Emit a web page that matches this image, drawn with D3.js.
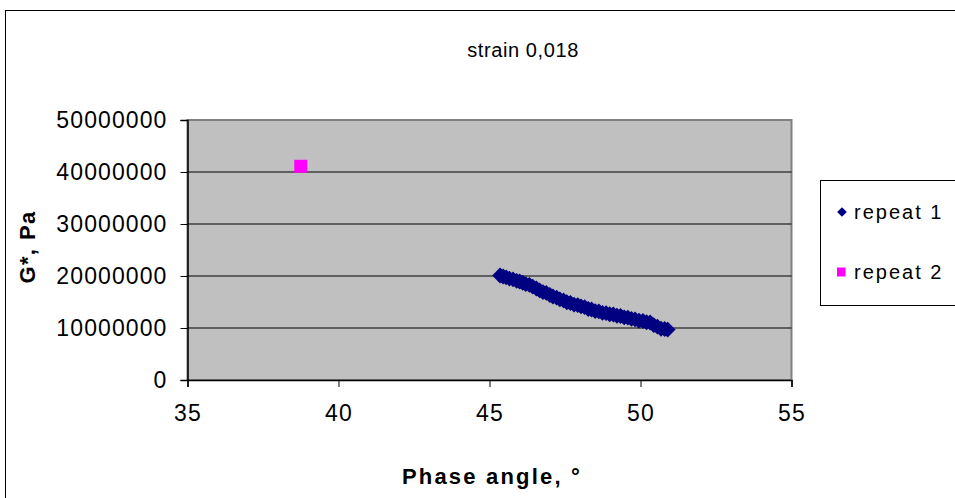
<!DOCTYPE html>
<html><head><meta charset="utf-8">
<script src="https://cdn.jsdelivr.net/npm/d3@7"></script>
<style>body{margin:0;background:#fff}svg{display:block;font-family:"Liberation Sans",Arial,sans-serif}</style>
</head><body><svg id="c" width="955" height="498"></svg>
<script>
const title = "strain 0,018";
const xTitle = "Phase angle, °";
const yTitle = "G*, Pa";
const xTicks = [35, 40, 45, 50, 55];
const yTicks = [0, 10000000, 20000000, 30000000, 40000000, 50000000];
const seriesNames = ["repeat 1", "repeat 2"];
const repeat1X = [45.35,45.45,45.55,45.66,45.78,45.9,46.0,46.1,46.2,46.32,46.43,46.55,46.66,46.77,46.88,47.0,47.1,47.22,47.33,47.45,47.56,47.68,47.8,47.92,48.03,48.15,48.27,48.38,48.5,48.62,48.74,48.86,48.98,49.1,49.22,49.34,49.46,49.58,49.7,49.82,49.95,50.08,50.2,50.32,50.44,50.56,50.68,50.8,50.9];
const repeat1Y = [20.1,19.9,19.75,19.5,19.35,19.05,18.95,18.7,18.45,18.3,17.95,17.6,17.25,16.9,16.75,16.35,16.05,15.85,15.5,15.3,14.95,14.8,14.5,14.4,14.15,14.0,13.65,13.55,13.25,13.2,12.9,12.85,12.65,12.6,12.35,12.3,12.05,12.0,11.75,11.65,11.4,11.35,11.1,11.05,10.55,10.25,9.85,9.8,9.7].map(v => v * 1e6);
const repeat2X = [38.75];
const repeat2Y = [41100000];

const svg = d3.select("#c");
const x = d3.scaleLinear().domain([35, 55]).range([187.5, 791.5]);
const y = d3.scaleLinear().domain([0, 50000000]).range([380, 120]);

svg.append("rect").attr("x", 5.5).attr("y", 10.5).attr("width", 1000).attr("height", 600)
  .attr("fill", "#fff").attr("stroke", "#000").attr("stroke-width", 1);

svg.append("rect").attr("x", x(35)).attr("y", y(50000000)).attr("width", x(55) - x(35)).attr("height", y(0) - y(50000000))
  .attr("fill", "#c0c0c0").attr("stroke", "#808080").attr("stroke-width", 2);

svg.append("g").selectAll("line").data(yTicks.filter(t => t > 0 && t < 50000000)).join("line")
  .attr("x1", x(35)).attr("x2", x(55)).attr("y1", d => y(d)).attr("y2", d => y(d))
  .attr("stroke", "#000").attr("stroke-width", 1);

const yAxis = d3.axisLeft(y).tickValues(yTicks).tickSize(7).tickPadding(13).tickFormat(d3.format("d"));
const gy = svg.append("g").attr("transform", `translate(${x(35)},0)`).call(yAxis);
const xAxis = d3.axisBottom(x).tickValues(xTicks).tickSize(7).tickPadding(18).tickFormat(d3.format("d"));
const gx = svg.append("g").attr("transform", `translate(0,${y(0)})`).call(xAxis);
[gx, gy].forEach(g => {
  g.select(".domain").attr("stroke", "#000").attr("stroke-width", 1.5);
  g.selectAll(".tick line").attr("stroke", "#000");
  g.selectAll("text").attr("fill", "#000").style("font-size", "23px").style("letter-spacing", "1.1px")
    .style("font-family", '"Liberation Sans", Arial, sans-serif');
});
gx.selectAll("text").attr("dy", "0.71em");

svg.append("text").attr("x", 523).attr("y", 57).attr("text-anchor", "middle")
  .style("font-size", "20px").style("letter-spacing", "0.6px").text(title);

svg.append("text").attr("x", 492).attr("y", 484).attr("text-anchor", "middle")
  .style("font-size", "22px").style("font-weight", "bold").style("letter-spacing", "2.2px").text(xTitle);
svg.append("text").attr("transform", "translate(35,247) rotate(-90)").attr("text-anchor", "middle")
  .style("font-size", "22px").style("font-weight", "bold").style("letter-spacing", "1.4px").text(yTitle);

const diamond = d3.symbol().type(d3.symbolDiamond2).size(160);
svg.append("g").selectAll("path").data(repeat1X.map((v, i) => [v, repeat1Y[i]])).join("path")
  .attr("d", diamond).attr("transform", d => `translate(${x(d[0])},${y(d[1])})`).attr("fill", "#000080");
svg.append("g").selectAll("rect").data(repeat2X.map((v, i) => [v, repeat2Y[i]])).join("rect")
  .attr("x", d => x(d[0]) - 6.5).attr("y", d => y(d[1]) - 6.5).attr("width", 13).attr("height", 13).attr("fill", "#ff00ff");

svg.append("rect").attr("x", 820.5).attr("y", 180.5).attr("width", 200).attr("height", 125)
  .attr("fill", "#fff").attr("stroke", "#000").attr("stroke-width", 1);
const legY = [212, 272];
svg.append("path").attr("d", d3.symbol().type(d3.symbolDiamond2).size(60)).attr("transform", `translate(842,${legY[0]})`).attr("fill", "#000080");
svg.append("rect").attr("x", 837).attr("y", legY[1] - 4.5).attr("width", 8.5).attr("height", 9).attr("fill", "#ff00ff");
seriesNames.forEach((n, i) => {
  svg.append("text").attr("x", 854).attr("y", legY[i]).attr("dy", "0.36em")
    .style("font-size", "20px").style("letter-spacing", "2px").text(n);
});
</script></body></html>
